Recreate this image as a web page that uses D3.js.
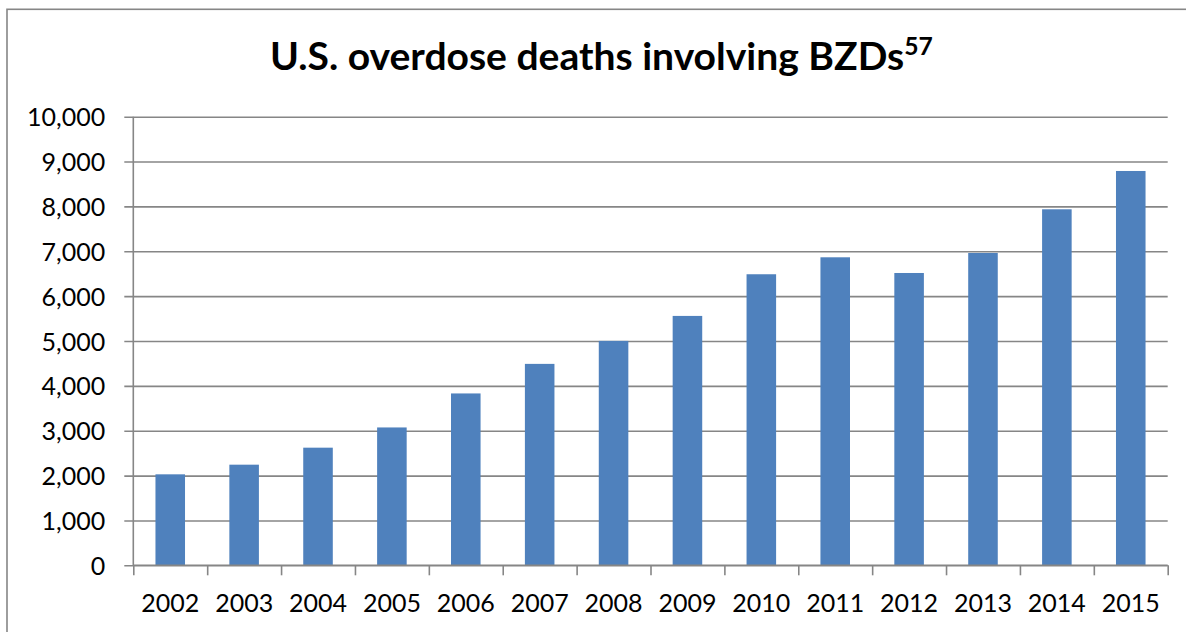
<!DOCTYPE html>
<html>
<head>
<meta charset="utf-8">
<script src="https://cdn.jsdelivr.net/npm/d3@7"></script>
<style>
  html, body { margin: 0; padding: 0; background: #fff; }
  svg { display: block; }
  text { font-family: Lato, "Open Sans", sans-serif; fill: #000; }
</style>
</head>
<body>
<svg id="chart" width="1186" height="632"></svg>
<script>
const titleText = "U.S. overdose deaths involving BZDs";
const titleSup = "57";
const years = ["2002","2003","2004","2005","2006","2007","2008","2009","2010","2011","2012","2013","2014","2015"];
const deaths = [2028, 2243, 2622, 3073, 3831, 4490, 5002, 5559, 6488, 6866, 6516, 6962, 7936, 8790];
const yTicks = [0,1000,2000,3000,4000,5000,6000,7000,8000,9000,10000];

(function () {
const W = 1186, H = 632;
const svg = d3.select("#chart");
const pLeft = 133.3, pRight = 1167.7, pTop = 116.7, pBottom = 565.3;
const gray = "#868686";

// outer frame (left and top edges visible)
svg.append("rect").attr("x", 7).attr("y", 9.3).attr("width", W + 20).attr("height", H + 20)
  .attr("fill", "none").attr("stroke", gray).attr("stroke-width", 1.6);

const x = d3.scaleBand().domain(years).range([pLeft, pRight]).paddingInner(0.6).paddingOuter(0.3);
const y = d3.scaleLinear().domain([0, 10000]).range([pBottom, pTop]);

// gridlines
const yAxis = d3.axisLeft(y).tickValues(yTicks).tickSize(-(pRight - pLeft)).tickFormat("");
const gy = svg.append("g").attr("transform", `translate(${pLeft},0)`).call(yAxis);
gy.select(".domain").remove();
gy.selectAll("line").attr("stroke", gray).attr("stroke-width", 1.6).attr("x1", -9);

// y labels
const yLab = d3.axisLeft(y).tickValues(yTicks).tickSize(0).tickPadding(0).tickFormat(d3.format(","));
const gyl = svg.append("g").attr("transform", `translate(${pLeft - 28},0)`).call(yLab);
gyl.select(".domain").remove();
gyl.selectAll("text").attr("font-size", 25).attr("font-family", "Lato").attr("dy", "0.36em").attr("fill", "#000");

// bars
svg.append("g").selectAll("rect").data(years).join("rect")
  .attr("x", d => x(d)).attr("width", x.bandwidth())
  .attr("y", (d, i) => y(deaths[i])).attr("height", (d, i) => pBottom - y(deaths[i]))
  .attr("fill", "#4F81BD");

// y axis line
svg.append("line").attr("x1", pLeft).attr("x2", pLeft).attr("y1", pTop).attr("y2", pBottom)
  .attr("stroke", gray).attr("stroke-width", 1.6);

// x axis
const xEdge = d3.scaleLinear().domain([0, years.length]).range([pLeft, pRight]);
const gx = svg.append("g").attr("transform", `translate(0,${pBottom})`)
  .call(d3.axisBottom(xEdge).tickValues(d3.range(years.length + 1)).tickSize(10).tickFormat(""));
gx.select(".domain").attr("stroke", gray).attr("stroke-width", 1.6).attr("d", `M${pLeft},0H${pRight}`);
gx.selectAll("line").attr("stroke", gray).attr("stroke-width", 1.6);

const gxl = svg.append("g").attr("transform", `translate(0,${pBottom})`)
  .call(d3.axisBottom(x).tickSize(0).tickPadding(0));
gxl.select(".domain").remove();
gxl.selectAll("text").attr("font-size", 25).attr("font-family", "Lato").attr("fill", "#000")
  .attr("dy", 0).attr("y", 47);

// title
const t = svg.append("text").attr("x", 270).attr("y", 70)
  .attr("font-size", 38).attr("font-weight", "bold").attr("font-family", "Lato");
t.append("tspan").text(titleText);
t.append("tspan").text(titleSup).attr("font-size", 24).attr("dy", -15);
const target = 933 - 270;
const w = t.node().getComputedTextLength();
const s = target / w;
t.attr("transform", `translate(270,70) scale(${s},1) translate(-270,-70)`);
})();
</script>
</body>
</html>
